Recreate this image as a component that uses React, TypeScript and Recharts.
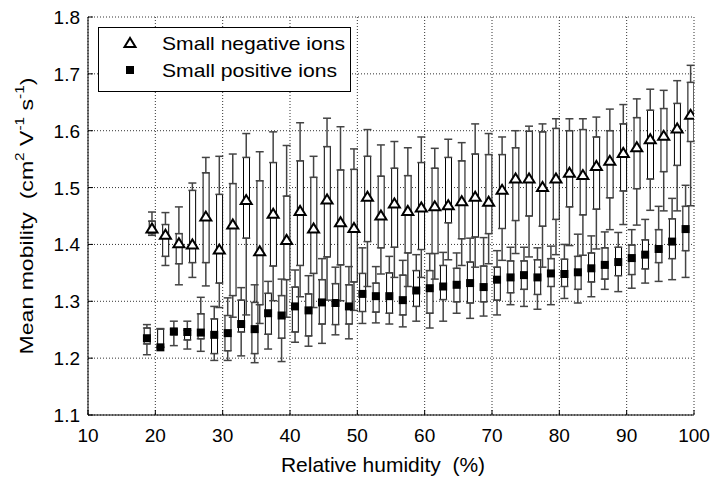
import {
  ComposedChart, Bar, Scatter, ErrorBar, XAxis, YAxis, CartesianGrid, Legend, Label,
} from 'recharts';

const FONT = '"Liberation Sans", Arial, Helvetica, sans-serif';

const xTicks = [10, 20, 30, 40, 50, 60, 70, 80, 90, 100];
const yTicks = [1.1, 1.2, 1.3, 1.4, 1.5, 1.6, 1.7, 1.8];

// small negative ions
const negX = [19.5, 21.5, 23.5, 25.5, 27.5, 29.5, 31.5, 33.5, 35.5, 37.5, 39.5, 41.5, 43.5, 45.5,
  47.5, 49.5, 51.5, 53.5, 55.5, 57.5, 59.5, 61.5, 63.5, 65.5, 67.5, 69.5, 71.5, 73.5, 75.5, 77.5,
  79.5, 81.5, 83.5, 85.5, 87.5, 89.5, 91.5, 93.5, 95.5, 97.5, 99.5];
const negMean = [1.428, 1.417, 1.402, 1.400, 1.449, 1.391, 1.435, 1.478, 1.388, 1.454, 1.408,
  1.459, 1.428, 1.479, 1.439, 1.429, 1.484, 1.451, 1.472, 1.459, 1.465, 1.467, 1.469, 1.476, 1.484, 1.475,
  1.496, 1.516, 1.516, 1.501, 1.516, 1.526, 1.522, 1.538, 1.547, 1.561, 1.571, 1.585, 1.591, 1.604, 1.628];
const negQ3 = [1.441, 1.435, 1.419, 1.495, 1.526, 1.488, 1.507, 1.553, 1.512, 1.544, 1.485,
  1.547, 1.518, 1.572, 1.531, 1.532, 1.555, 1.520, 1.534, 1.521, 1.544, 1.534, 1.553, 1.547, 1.559, 1.558,
  1.558, 1.570, 1.599, 1.598, 1.604, 1.600, 1.602, 1.589, 1.600, 1.612, 1.623, 1.636, 1.639, 1.648, 1.685];
const negQ1 = [1.419, 1.379, 1.366, 1.368, 1.368, 1.332, 1.310, 1.411, 1.294, 1.362, 1.338,
  1.363, 1.349, 1.378, 1.364, 1.334, 1.405, 1.394, 1.395, 1.385, 1.391, 1.384, 1.438, 1.410, 1.413, 1.419,
  1.428, 1.442, 1.450, 1.432, 1.444, 1.466, 1.452, 1.462, 1.482, 1.494, 1.498, 1.515, 1.528, 1.539, 1.581];
const negMax = [1.457, 1.456, 1.466, 1.508, 1.553, 1.555, 1.559, 1.595, 1.563, 1.598, 1.574,
  1.614, 1.555, 1.622, 1.607, 1.568, 1.602, 1.575, 1.581, 1.570, 1.589, 1.569, 1.585, 1.579, 1.612, 1.595,
  1.589, 1.600, 1.608, 1.612, 1.621, 1.621, 1.621, 1.624, 1.638, 1.646, 1.656, 1.673, 1.671, 1.688, 1.715];
const negMin = [1.416, 1.363, 1.329, 1.342, 1.327, 1.289, 1.272, 1.276, 1.261, 1.301, 1.272,
  1.308, 1.289, 1.302, 1.301, 1.284, 1.326, 1.348, 1.342, 1.326, 1.342, 1.339, 1.373, 1.363, 1.360, 1.366,
  1.372, 1.384, 1.378, 1.360, 1.382, 1.398, 1.381, 1.392, 1.426, 1.435, 1.434, 1.460, 1.459, 1.459, 1.468];

// small positive ions
const posX = [18.75, 20.75, 22.75, 24.75, 26.75, 28.75, 30.75, 32.75, 34.75, 36.75, 38.75, 40.75,
  42.75, 44.75, 46.75, 48.75, 50.75, 52.75, 54.75, 56.75, 58.75, 60.75, 62.75, 64.75, 66.75, 68.75,
  70.75, 72.75, 74.75, 76.75, 78.75, 80.75, 82.75, 84.75, 86.75, 88.75, 90.75, 92.75, 94.75, 96.75, 98.75];
const posMean = [1.235, 1.219, 1.247, 1.246, 1.245, 1.241, 1.244, 1.260, 1.251, 1.279, 1.275,
  1.291, 1.284, 1.298, 1.297, 1.291, 1.313, 1.309, 1.309, 1.302, 1.319, 1.323, 1.326, 1.329, 1.332, 1.325,
  1.338, 1.342, 1.346, 1.342, 1.349, 1.348, 1.351, 1.358, 1.364, 1.369, 1.376, 1.382, 1.392, 1.405, 1.427];
const posQ3 = [1.253, 1.251, 1.251, 1.249, 1.278, 1.269, 1.275, 1.302, 1.298, 1.314, 1.310,
  1.325, 1.313, 1.338, 1.331, 1.329, 1.349, 1.332, 1.350, 1.346, 1.354, 1.354, 1.363, 1.358, 1.369, 1.362,
  1.360, 1.371, 1.371, 1.373, 1.375, 1.374, 1.379, 1.385, 1.394, 1.395, 1.399, 1.408, 1.426, 1.445, 1.467];
const posQ1 = [1.225, 1.219, 1.241, 1.232, 1.234, 1.208, 1.213, 1.246, 1.208, 1.242, 1.235,
  1.246, 1.239, 1.260, 1.259, 1.260, 1.282, 1.281, 1.279, 1.276, 1.291, 1.279, 1.303, 1.299, 1.297, 1.299,
  1.302, 1.315, 1.321, 1.312, 1.326, 1.326, 1.321, 1.334, 1.339, 1.345, 1.347, 1.357, 1.368, 1.375, 1.389];
const posMax = [1.259, 1.252, 1.265, 1.265, 1.307, 1.291, 1.306, 1.324, 1.329, 1.335, 1.339,
  1.355, 1.345, 1.375, 1.360, 1.361, 1.394, 1.361, 1.379, 1.372, 1.382, 1.384, 1.386, 1.385, 1.411, 1.412,
  1.389, 1.395, 1.395, 1.394, 1.397, 1.400, 1.418, 1.415, 1.422, 1.421, 1.426, 1.444, 1.467, 1.481, 1.504];
const posMin = [1.206, 1.219, 1.222, 1.216, 1.212, 1.196, 1.196, 1.204, 1.192, 1.216, 1.194,
  1.228, 1.221, 1.226, 1.241, 1.234, 1.261, 1.262, 1.260, 1.255, 1.265, 1.253, 1.265, 1.279, 1.270, 1.274,
  1.276, 1.294, 1.291, 1.286, 1.294, 1.305, 1.297, 1.308, 1.321, 1.317, 1.323, 1.332, 1.335, 1.338, 1.342];

const NEG_NAME = 'Small negative ions';
const POS_NAME = 'Small positive ions';

const rows = negX.map((xn, i) => ({
  xn,
  xp: posX[i],
  negMean: negMean[i],
  negBox: [negQ1[i], negQ3[i]],
  negQ1: negQ1[i],
  negQ3: negQ3[i],
  negUp: [0, negMax[i] - negQ3[i]],
  negDown: [negQ1[i] - negMin[i], 0],
  posMean: posMean[i],
  posBox: [posQ1[i], posQ3[i]],
  posQ1: posQ1[i],
  posQ3: posQ3[i],
  posUp: [0, posMax[i] - posQ3[i]],
  posDown: [posQ1[i] - posMin[i], 0],
}));

const Nothing = () => <g />;

const Triangle = (p: any) => (
  <polygon
    points={`${p.cx},${p.cy - 5} ${p.cx - 5.5},${p.cy + 4} ${p.cx + 5.5},${p.cy + 4}`}
    fill="#fff" stroke="#000" strokeWidth={2}
  />
);

const Square = (p: any) => <rect x={p.cx - 4} y={p.cy - 4} width={8} height={8} fill="#000" />;

// inward MATLAB-style ticks
const BottomTick = ({ x, y, payload }: any) => (
  <g>
    <line x1={x} y1={y} x2={x} y2={y - 5} stroke="#000" />
    <text x={x} y={y + 27} textAnchor="middle" fontSize={19} fontFamily={FONT} fill="#000">
      {payload.value}
    </text>
  </g>
);
const LeftTick = ({ x, y, payload }: any) => (
  <g>
    <line x1={x} y1={y} x2={x + 5} y2={y} stroke="#000" />
    <text x={x - 8} y={y + 7} textAnchor="end" fontSize={19} fontFamily={FONT} fill="#000">
      {Number(payload.value).toFixed(1)}
    </text>
  </g>
);
const TopTick = ({ x, y }: any) => <line x1={x} y1={y} x2={x} y2={y + 5} stroke="#000" />;
const RightTick = ({ x, y }: any) => <line x1={x} y1={y} x2={x - 5} y2={y} stroke="#000" />;

const YTitle = ({ viewBox }: any) => {
  const cx = 27;
  const cy = viewBox.y + viewBox.height / 2;
  return (
    <text
      x={cx} y={cy} transform={`rotate(-90 ${cx} ${cy})`} textAnchor="middle" dominantBaseline="central"
      fontSize={18} fontFamily={FONT} fill="#000" textLength={277} lengthAdjust="spacingAndGlyphs"
      style={{ whiteSpace: 'pre' }}
    >
      {'Mean mobility  (cm'}
      <tspan dy={-7} fontSize={12}>2</tspan>
      <tspan dy={7}>{' V'}</tspan>
      <tspan dy={-7} fontSize={12}>-1</tspan>
      <tspan dy={7}>{' s'}</tspan>
      <tspan dy={-7} fontSize={12}>-1</tspan>
      <tspan dy={7}>)</tspan>
    </text>
  );
};

const XTitle = ({ viewBox }: any) => (
  <text
    x={viewBox.x + viewBox.width / 2 - 8} y={472} textAnchor="middle" fontSize={21}
    fontFamily={FONT} fill="#000" style={{ whiteSpace: 'pre' }}
  >
    Relative humidity  (%)
  </text>
);

const LegendBox = () => (
  <svg width={253} height={65} style={{ display: 'block' }}>
    <rect x={0.5} y={0.5} width={252} height={64} fill="#fff" stroke="#000" />
    <Triangle cx={32} cy={16} />
    <text x={64} y={23} fontSize={19} fontFamily={FONT} textLength={183} lengthAdjust="spacingAndGlyphs">
      {NEG_NAME}
    </text>
    <Square cx={32} cy={43} />
    <text x={64} y={50} fontSize={19} fontFamily={FONT} textLength={175} lengthAdjust="spacingAndGlyphs">
      {POS_NAME}
    </text>
  </svg>
);

export default function App() {
  return (
    <div style={{ position: 'absolute', left: 0, top: 0, background: '#fff' }}>
      <ComposedChart
        width={715}
        height={477}
        data={rows}
        margin={{ top: 17, right: 21, bottom: 27, left: 0 }}
        barGap={0}
      >
        <CartesianGrid xAxisId="a" yAxisId="left" stroke="#333" strokeDasharray="1 2"
          horizontalValues={yTicks} verticalValues={xTicks} />
        <XAxis xAxisId="a" dataKey="xn" type="number" domain={[10, 100]} ticks={xTicks}
          allowDataOverflow interval={0} height={35} tickSize={0} tickMargin={0}
          tick={BottomTick} axisLine={{ stroke: '#000' }}>
          <Label content={XTitle} />
        </XAxis>
        <XAxis xAxisId="b" dataKey="xp" type="number" domain={[10, 100]} allowDataOverflow hide />
        <XAxis xAxisId="top" orientation="top" type="number" domain={[10, 100]} ticks={xTicks}
          allowDataOverflow interval={0} height={0} tickSize={0} tickMargin={0}
          tick={TopTick} axisLine={{ stroke: '#000' }} />
        <YAxis yAxisId="left" type="number" domain={[1.1, 1.8]} ticks={yTicks} allowDataOverflow
          interval={0} width={88} tickSize={0} tickMargin={0} tick={LeftTick} axisLine={{ stroke: '#000' }}>
          <Label content={YTitle} />
        </YAxis>
        <YAxis yAxisId="right" orientation="right" type="number" domain={[1.1, 1.8]} ticks={yTicks}
          allowDataOverflow interval={0} width={0} tickSize={0} tickMargin={0} tick={RightTick}
          axisLine={{ stroke: '#000' }} />

        {/* whiskers */}
        <Scatter xAxisId="a" yAxisId="left" dataKey="negQ3" shape={Nothing} isAnimationActive={false}>
          <ErrorBar dataKey="negUp" direction="y" width={4} stroke="#444" isAnimationActive={false} />
        </Scatter>
        <Scatter xAxisId="a" yAxisId="left" dataKey="negQ1" shape={Nothing} isAnimationActive={false}>
          <ErrorBar dataKey="negDown" direction="y" width={4} stroke="#444" isAnimationActive={false} />
        </Scatter>
        <Scatter xAxisId="b" yAxisId="left" dataKey="posQ3" shape={Nothing} isAnimationActive={false}>
          <ErrorBar dataKey="posUp" direction="y" width={4} stroke="#444" isAnimationActive={false} />
        </Scatter>
        <Scatter xAxisId="b" yAxisId="left" dataKey="posQ1" shape={Nothing} isAnimationActive={false}>
          <ErrorBar dataKey="posDown" direction="y" width={4} stroke="#444" isAnimationActive={false} />
        </Scatter>

        {/* boxes */}
        <Bar xAxisId="a" yAxisId="left" dataKey="negBox" barSize={6} fill="#fff" stroke="#000"
          strokeWidth={1} isAnimationActive={false} />
        <Bar xAxisId="b" yAxisId="left" dataKey="posBox" barSize={6} fill="#fff" stroke="#000"
          strokeWidth={1} isAnimationActive={false} />

        {/* means */}
        <Scatter xAxisId="a" yAxisId="left" name={NEG_NAME} dataKey="negMean" shape={Triangle}
          isAnimationActive={false} />
        <Scatter xAxisId="b" yAxisId="left" name={POS_NAME} dataKey="posMean" shape={Square}
          isAnimationActive={false} />

        <Legend layout="vertical" align="center" verticalAlign="middle" content={LegendBox}
          wrapperStyle={{ position: 'absolute', left: 98, top: 27, width: 253, height: 65 }} />
      </ComposedChart>
    </div>
  );
}
